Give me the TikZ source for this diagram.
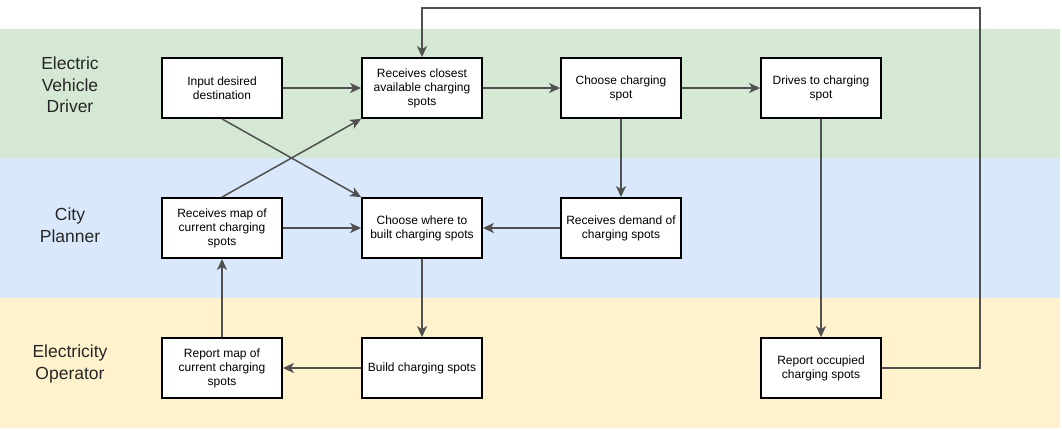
\documentclass[tikz,border=0pt]{standalone}
\usepackage{fontspec}
\setmainfont{Liberation Sans}
\usetikzlibrary{arrows.meta}
\definecolor{driverlane}{HTML}{D5E8D4}
\definecolor{plannerlane}{HTML}{DAE8FC}
\definecolor{operatorlane}{HTML}{FFF2CC}
\definecolor{flowline}{HTML}{505050}
\tikzset{
  stepbox/.style={draw=black, line width=1.8pt, fill=white, minimum width=120pt,
    minimum height=60pt, inner sep=2pt, align=center,
    font=\fontsize{12}{14}\selectfont},
  lanelabel/.style={align=center, text=black!85,
    font=\fontsize{17.5}{21.5}\selectfont},
  flow/.style={draw=flowline, line width=1.5pt,
    -{Stealth[length=11pt,width=10pt,inset=3pt]}}
}
\begin{document}
\begin{tikzpicture}[x=1pt,y=-1pt]
        % Bounding box
        \useasboundingbox (0,0) rectangle (1062,429);
        \fill[white] (0,0) rectangle (1062,429);

        % Lanes
        \fill[driverlane] (0,29) rectangle (1060,158);
        \fill[plannerlane] (0,158) rectangle (1060,298);
        \fill[operatorlane] (0,298) rectangle (1060,428);

        % Lane labels
        \node[lanelabel] (driver) at (70,85) {Electric\\Vehicle\\Driver};
        \node[lanelabel] (planner) at (70,225) {City\\Planner};
        \node[lanelabel] (operator) at (70,364) {Electricity\\Operator};

        % Steps
        \node[stepbox] (input) at (222,88) {Input desired\\destination};
        \node[stepbox] (closest) at (422,88) {Receives closest\\available charging\\spots};
        \node[stepbox] (choose) at (621,88) {Choose charging\\spot};
        \node[stepbox] (drives) at (821,88) {Drives to charging\\spot};
        \node[stepbox] (mapin) at (222,228) {Receives map of\\current charging\\spots};
        \node[stepbox] (where) at (422,228) {Choose where to\\built charging spots};
        \node[stepbox] (demand) at (621,228) {Receives demand of\\charging spots};
        \node[stepbox] (mapout) at (222,368) {Report map of\\current charging\\spots};
        \node[stepbox] (build) at (422,368) {Build charging spots};
        \node[stepbox] (occupied) at (821,368) {Report occupied\\charging spots};

        % Corner of the loop back
        \coordinate (loop) at (980,8);

        % Flows
        \draw[flow] (input) -- (closest);
        \draw[flow] (closest) -- (choose);
        \draw[flow] (choose) -- (drives);
        \draw[flow] (choose) -- (demand);
        \draw[flow] (demand) -- (where);
        \draw[flow] (mapin) -- (where);
        \draw[flow] (input.south) -- (where.north west);
        \draw[flow] (mapin.north) -- (closest.south west);
        \draw[flow] (where) -- (build);
        \draw[flow] (build) -- (mapout);
        \draw[flow] (mapout) -- (mapin);
        \draw[flow] (drives) -- (occupied);
        \draw[flow] (occupied.east) -| (loop) -| (closest.north);
    \end{tikzpicture}
\end{document}
